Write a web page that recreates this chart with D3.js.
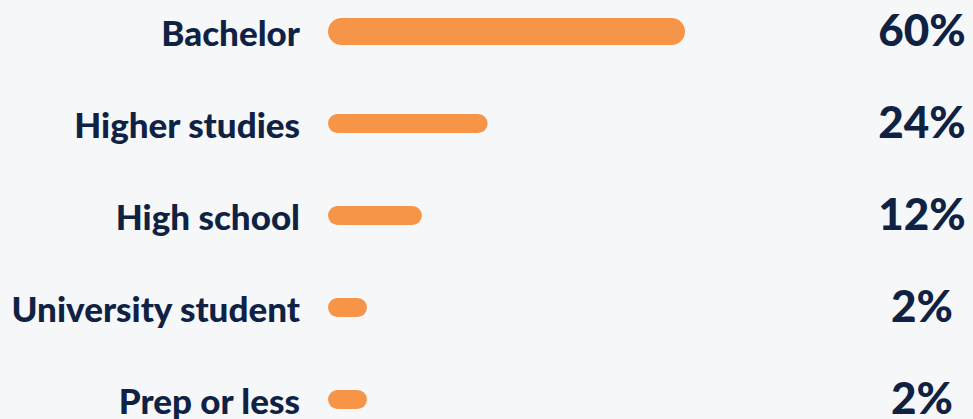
<!DOCTYPE html>
<html>
<head>
<meta charset="utf-8">
<script src="https://cdn.jsdelivr.net/npm/d3@7"></script>
<style>
  html, body { margin: 0; padding: 0; background: #F6F7F9; }
  svg { display: block; }
</style>
</head>
<body>
<svg id="chart" width="973" height="419"></svg>
<script>
const categories = ["Bachelor", "Higher studies", "High school", "University student", "Prep or less"];
const values = [60, 24, 12, 2, 2];
const valueLabels = ["60%", "24%", "12%", "2%", "2%"];

const W = 973, H = 419;
const svg = d3.select("#chart");
svg.append("rect").attr("width", W).attr("height", H).attr("fill", "#F6F7F9");

const navy = "#0F2244";
const orange = "#F69448";
const barStart = 328;

const y = d3.scalePoint().domain(categories).range([31.5, 399.5]);
const x = d3.scaleLinear().domain([0, 60]).range([28, 357]);

const rows = categories.map((c, i) => ({ c, v: values[i], label: valueLabels[i], i }));

// bars
svg.selectAll("rect.bar").data(rows).enter().append("rect")
  .attr("class", "bar")
  .attr("x", barStart)
  .attr("y", d => y(d.c) - (d.i === 0 ? 13.5 : 9.5))
  .attr("width", d => x(d.v))
  .attr("height", d => d.i === 0 ? 27 : 19)
  .attr("rx", d => d.i === 0 ? 13.5 : 9.5)
  .attr("fill", orange);

// category labels
svg.selectAll("text.cat").data(rows).enter().append("text")
  .attr("class", "cat")
  .attr("x", 300)
  .attr("y", d => y(d.c) + 14)
  .attr("text-anchor", "end")
  .attr("font-family", "Lato, 'Open Sans', sans-serif")
  .attr("font-weight", 900)
  .attr("font-size", 35)
  .attr("fill", navy)
  .text(d => d.c);

// value labels
svg.selectAll("text.val").data(rows).enter().append("text")
  .attr("class", "val")
  .attr("x", 922)
  .attr("y", d => y(d.c) + 14)
  .attr("text-anchor", "middle")
  .attr("font-family", "Lato, 'Open Sans', sans-serif")
  .attr("font-weight", 900)
  .attr("font-size", 44)
  .attr("fill", navy)
  .text(d => d.label);
</script>
</body>
</html>
